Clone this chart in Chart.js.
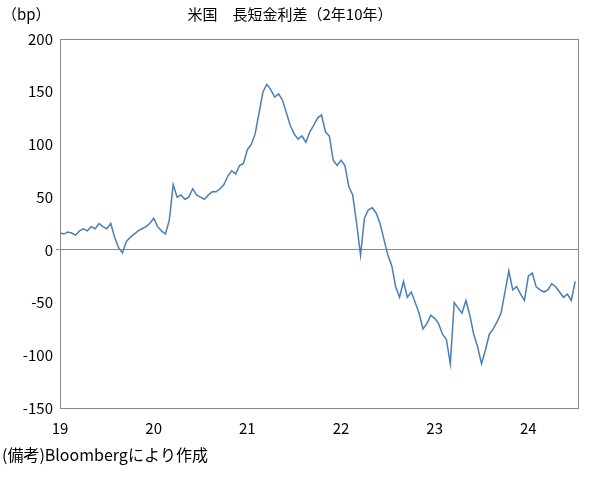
<!DOCTYPE html>
<html><head><meta charset="utf-8">
<script src="https://cdn.jsdelivr.net/npm/chart.js@4"></script>
<style>body{margin:0;background:#fff}#wrap{width:593px;height:477px}</style>
</head><body><div id="wrap"><canvas id="c"></canvas></div>
<script>
var title = '米国　長短金利差（2年10年）';
var unitLabel = '（bp）';
var note = '(備考)Bloombergにより作成';
var yearLabels = ['19', '20', '21', '22', '23', '24'];
// half-month readings, Jan 2019 .. Jul 2024
var spread = [
  16,15,17,16,14,18,20,18,22,20,25,22,20,25,12,2,-3,8,12,15,18,20,22,25,
  30,22,18,15,28,62,50,52,48,50,58,52,50,48,52,55,55,58,62,70,75,72,80,82,
  95,100,110,130,150,157,152,145,148,142,130,118,110,105,108,102,112,118,125,128,112,108,85,80,
  85,80,60,52,25,-5,30,38,40,35,25,10,-5,-15,-35,-45,-30,-45,-40,-50,-60,-75,-70,-62,
  -65,-70,-80,-85,-108,-50,-55,-60,-48,-62,-80,-92,-108,-95,-80,-75,-68,-60,-40,-20,-38,-35,-42,-48,
  -25,-22,-35,-38,-40,-38,-32,-35,-40,-45,-42,-48,-30
];
var points = spread.map(function(v, i){ return {x: 2019 + i / 24, y: v}; });
var font = "'Noto Sans CJK JP', sans-serif";

var textPlugin = {
  id: 'texts',
  afterDraw: function(ch){
    var ctx = ch.ctx;
    ctx.save();
    ctx.fillStyle = '#000';
    ctx.font = '15px ' + font;
    ctx.textBaseline = 'middle';
    ctx.textAlign = 'left';
    ctx.fillText(unitLabel, 2, 14);
    ctx.font = '16px ' + font;
    ctx.fillText(note, 2, 455);
    ctx.font = '15px ' + font;
    ctx.textAlign = 'center';
    ctx.fillText(title, 290, 14);
    ctx.restore();
  }
};

new Chart(document.getElementById('c'), {
  type: 'line',
  data: { datasets: [{
    data: points,
    borderColor: '#4a7ebb',
    borderWidth: 1.5,
    pointRadius: 0,
    tension: 0
  }]},
  options: {
    responsive: true,
    maintainAspectRatio: false,
    animation: false,
    layout: { padding: { top: 39, right: 15, left: 0, bottom: 0 } },
    plugins: { legend: { display: false }, tooltip: { enabled: false } },
    scales: {
      x: {
        type: 'linear', min: 2019, max: 2024.53,
        afterBuildTicks: function(s){
          s.ticks = yearLabels.map(function(l, i){ return {value: 2019 + i}; });
        },
        ticks: { autoSkip: false, maxRotation: 0, color: '#000', font: { size: 15, family: font },
          callback: function(v){ return yearLabels[Math.round(v) - 2019]; } },
        grid: { display: false },
        border: { color: '#888' },
        afterFit: function(s){ s.height = 69; }
      },
      y: {
        min: -150, max: 200,
        ticks: { stepSize: 50, color: '#000', font: { size: 15, family: font } },
        grid: {
          tickLength: 4,
          color: function(c){ return c.tick && c.tick.value === 0 ? '#888' : 'rgba(0,0,0,0)'; }
        },
        border: { color: '#888' },
        afterFit: function(s){ s.width = 60; }
      }
    }
  },
  plugins: [textPlugin, {
    id: 'box',
    afterDraw: function(ch){
      var a = ch.chartArea, ctx = ch.ctx;
      ctx.save(); ctx.strokeStyle = '#888'; ctx.lineWidth = 1;
      ctx.strokeRect(a.left + 0.5, a.top + 0.5, a.right - a.left, a.bottom - a.top);
      ctx.restore();
    }
  }]
});
</script></body></html>
